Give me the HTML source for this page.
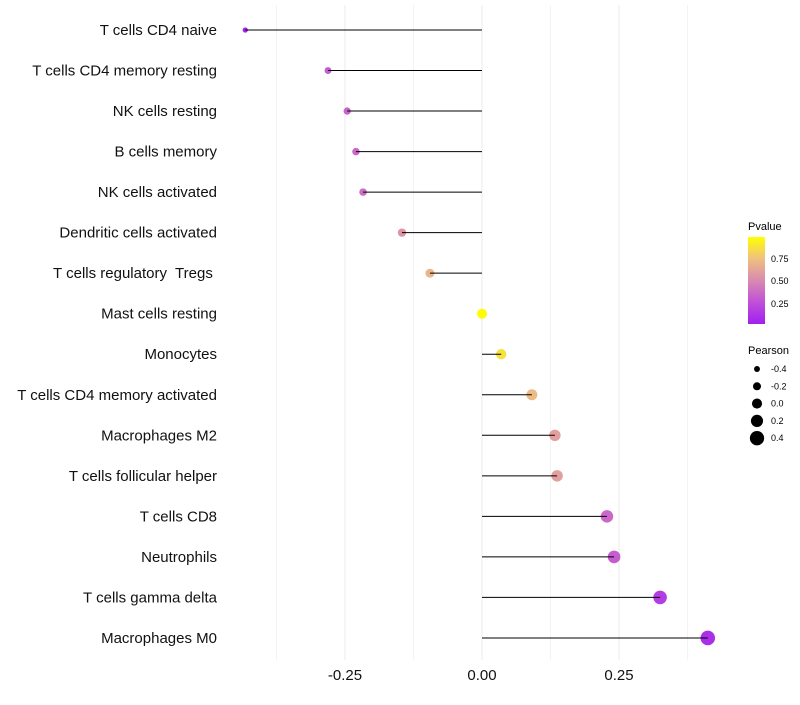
<!DOCTYPE html>
<html><head><meta charset="utf-8"><style>
body{margin:0;background:#fff;font-family:"Liberation Sans",sans-serif}
text{white-space:pre}
</style></head><body>
<svg id="chart" width="800" height="700" xmlns="http://www.w3.org/2000/svg" font-family="Liberation Sans, sans-serif">
<defs><linearGradient id="pg" x1="0" y1="1" x2="0" y2="0">
<stop offset="0" stop-color="#a020f0"/><stop offset="0.25" stop-color="#c050d8"/><stop offset="0.5" stop-color="#d88ab0"/><stop offset="0.75" stop-color="#efc080"/><stop offset="1" stop-color="#ffff00"/></linearGradient></defs>
<g id="grid"></g><g id="marks"></g><g id="ylabels"></g><g id="xlabels"></g>
<g>
<text x="748" y="230" font-size="11">Pvalue</text>
<rect x="748" y="237" width="17" height="87" fill="url(#pg)"/>
<text x="771" y="262" font-size="9">0.75</text>
<text x="771" y="284" font-size="9">0.50</text>
<text x="771" y="307" font-size="9">0.25</text>
</g>
<g id="sizelegend">
<text x="748" y="354" font-size="11">Pearson</text>
</g>
</svg>
<script>
const categories=["T cells CD4 naive","T cells CD4 memory resting","NK cells resting","B cells memory","NK cells activated","Dendritic cells activated","T cells regulatory  Tregs ","Mast cells resting","Monocytes","T cells CD4 memory activated","Macrophages M2","T cells follicular helper","T cells CD8","Neutrophils","T cells gamma delta","Macrophages M0"];
const pearson=[-0.432,-0.281,-0.246,-0.230,-0.217,-0.146,-0.095,0.0,0.035,0.091,0.133,0.137,0.228,0.241,0.325,0.412];
const pvalue=[0.02,0.3,0.33,0.35,0.38,0.55,0.7,0.99,0.88,0.72,0.6,0.6,0.35,0.3,0.15,0.08];
const xTicks=[-0.25,0,0.25];
const xTickLabels=["-0.25","0.00","0.25"];
const sizeLegend=[-0.4,-0.2,0.0,0.2,0.4];
const sizeLegendLabels=["-0.4","-0.2","0.0","0.2","0.4"];
const NS="http://www.w3.org/2000/svg";
const x=v=>482+v*548;
const y=i=>30+i*40.53;
const r=v=>5+v*5.5;
function col(p){const st=[[0,[160,32,240]],[0.25,[192,80,216]],[0.5,[216,138,176]],[0.75,[239,192,128]],[1,[255,255,0]]];
for(let i=1;i<st.length;i++){if(p<=st[i][0]){const t=(p-st[i-1][0])/(st[i][0]-st[i-1][0]);const a=st[i-1][1],b=st[i][1];return `rgb(${a.map((c,k)=>Math.round(c+(b[k]-c)*t)).join(",")})`;}}return "rgb(255,255,0)";}
function mk(tag,attrs,parent){const e=document.createElementNS(NS,tag);for(const k in attrs)e.setAttribute(k,attrs[k]);parent.appendChild(e);return e;}
const grid=document.getElementById("grid"),marks=document.getElementById("marks"),yl=document.getElementById("ylabels"),xl=document.getElementById("xlabels");
[-0.375,-0.25,-0.125,0,0.125,0.25,0.375].forEach(v=>{const l=mk("line",{x1:x(v),x2:x(v),y1:5,y2:660,stroke:"#ebebeb","stroke-width":(v*8)%2===0?1:0.6},grid);

});
categories.forEach((c,i)=>{
const t=mk("text",{x:217,y:y(i)+5,"text-anchor":"end","font-size":15,fill:"#111"},yl);t.textContent=c;


const d=mk("circle",{cx:x(pearson[i]),cy:y(i),r:Math.max(r(pearson[i]),2.2),fill:col(pvalue[i])},marks);


const ln=mk("line",{x1:x(0),x2:x(pearson[i]),y1:y(i),y2:y(i),stroke:"#000","stroke-width":1},marks);


});
xTicks.forEach((v,i)=>{const t=mk("text",{x:x(v),y:680,"text-anchor":"middle","font-size":15,fill:"#111"},xl);t.textContent=xTickLabels[i];

});
const sl=document.getElementById("sizelegend");
sizeLegend.forEach((v,i)=>{const cy=369+i*17.3;
const c=mk("circle",{cx:757,cy:cy,r:r(v)*0.95+0.3,fill:"#000"},sl);


const t=mk("text",{x:771,y:cy+3,"font-size":9},sl);t.textContent=sizeLegendLabels[i];

});
</script>
</body></html>
